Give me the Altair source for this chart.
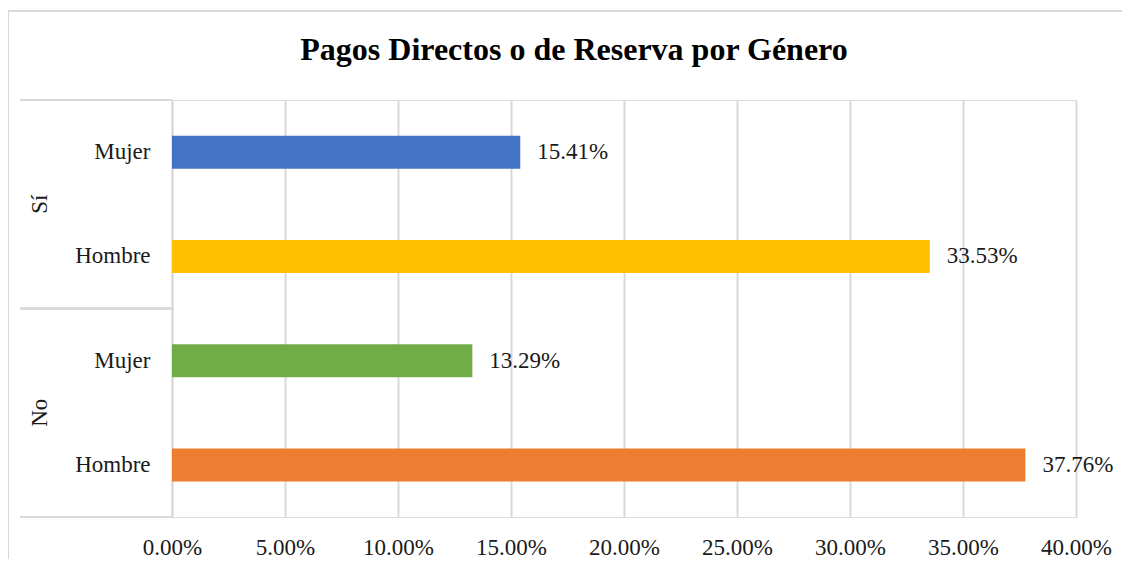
import altair as alt
import pandas as pd

groups = ["Sí", "Sí", "No", "No"]
genders = ["Mujer", "Hombre", "Mujer", "Hombre"]
values = [0.1541, 0.3353, 0.1329, 0.3776]
colors = ["#4472C4", "#FFC000", "#70AD47", "#ED7D31"]
group_labels = ["Sí", "No"]
tick_values = [0.0, 0.05, 0.10, 0.15, 0.20, 0.25, 0.30, 0.35, 0.40]
title_text = ["Pagos Directos o de Reserva por Género"]

W, H = 904, 417
FONT = "Liberation Serif, Times New Roman, serif"
GRID = "#d9d9d9"
TXT = "#1a1a1a"
FS = 23

keys = [f"{g}|{s}" for g, s in zip(groups, genders)]
df = pd.DataFrame({"key": keys, "group": groups, "gender": genders, "value": values})

ysort = keys
yenc = alt.Y(
    "key:N",
    sort=ysort,
    scale=alt.Scale(paddingInner=0, paddingOuter=0),
    axis=alt.Axis(
        title=None,
        labelExpr="split(datum.label, '|')[1]",
        labelFont=FONT,
        labelFontSize=FS,
        labelColor=TXT,
        labelPadding=22,
        ticks=False,
        tickSize=0,
        domain=True,
        domainColor=GRID,
        domainWidth=2,
        grid=False,
    ),
)

xenc = alt.X(
    "value:Q",
    scale=alt.Scale(domain=[0, 0.4], nice=False),
    axis=alt.Axis(
        title=None,
        values=tick_values,
        format=".2%",
        labelFont=FONT,
        labelFontSize=FS,
        labelColor=TXT,
        labelPadding=19,
        labelFlush=False,
        ticks=False,
        tickSize=0,
        domain=False,
        grid=True,
        gridColor=GRID,
        gridWidth=2,
    ),
)

base = alt.Chart(df)

bars = base.mark_bar(size=33).encode(
    x=xenc,
    y=yenc,
    color=alt.Color("key:N", scale=alt.Scale(domain=keys, range=colors), legend=None),
)

labels = base.mark_text(
    align="left", baseline="middle", dx=17, font=FONT, fontSize=FS, color=TXT
).encode(
    x="value:Q",
    y=alt.Y("key:N", sort=ysort),
    text=alt.Text("value:Q", format=".2%"),
)

gdf = pd.DataFrame({"key": [f"{g}|Hombre" for g in group_labels], "label": group_labels})
glabels = alt.Chart(gdf).mark_text(
    angle=270, align="center", baseline="middle", font=FONT, fontSize=FS, color=TXT
).encode(
    x=alt.value(-132),
    y=alt.Y("key:N", sort=ysort, bandPosition=0),
    text="label:N",
)

tdf = pd.DataFrame({"t": title_text})
title = alt.Chart(tdf).mark_text(
    align="center", baseline="alphabetic", font=FONT, fontSize=32,
    fontWeight="bold", color="#000000"
).encode(x=alt.value(402), y=alt.value(-40), text="t:N")

seps = []
for yy in [0, H / 2, H]:
    seps.append(
        alt.Chart(df).mark_rule(color=GRID, strokeWidth=2).encode(
            x=alt.value(-152), x2=alt.value(0), y=alt.value(yy)
        )
    )

frame_top = alt.Chart(df).mark_rule(color=GRID, strokeWidth=2).encode(
    x=alt.value(-164), x2=alt.value(950), y=alt.value(-89)
)
frame_left = alt.Chart(df).mark_rule(color=GRID, strokeWidth=2).encode(
    x=alt.value(-164), y=alt.value(-89), y2=alt.value(H + 42)
)

chart = alt.layer(bars, labels, glabels, title, *seps, frame_top, frame_left).properties(
    width=W,
    height=H,
    autosize=alt.AutoSizeParams(type="none"),
    padding={"left": 164, "top": 92, "right": 46, "bottom": 42},
).configure_view(stroke=None).configure(background="white")

chart.save("out.html", embed_options={"renderer": "svg", "actions": False})
